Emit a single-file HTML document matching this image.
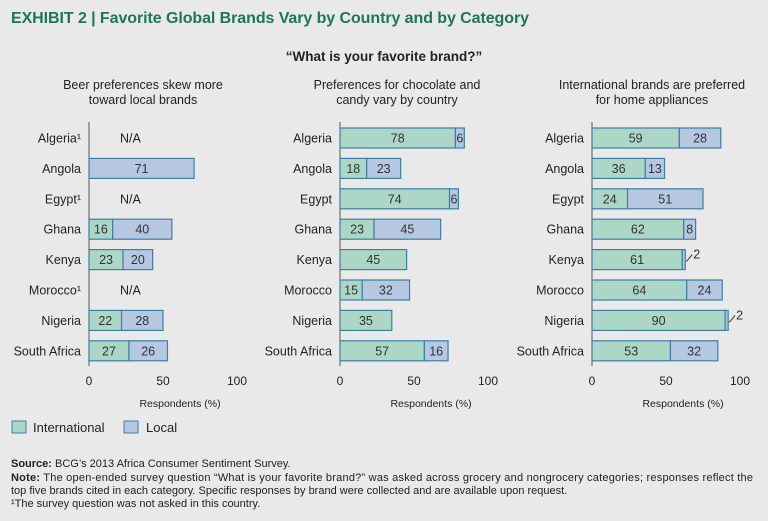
<!DOCTYPE html>
<html><head><meta charset="utf-8"><style>
body{margin:0;background:#e9e9e9;font-family:"Liberation Sans",sans-serif;}
svg{display:block}
</style></head><body>
<svg id="c" width="768" height="521" xmlns="http://www.w3.org/2000/svg">
<rect width="768" height="521" fill="#e9e9e9"/>
<text x="11" y="23" font-size="16" font-weight="bold" fill="#1d7656" textLength="518">EXHIBIT 2 | Favorite Global Brands Vary by Country and by Category</text>
<text x="384" y="61" font-size="13.5" font-weight="bold" fill="#222" text-anchor="middle">“What is your favorite brand?”</text>
<g id="panels"></g>
<g>
<rect x="12" y="421" width="14" height="12" fill="#acd7c6" stroke="#3c7fa4"/>
<text x="33" y="432" font-size="13" fill="#222">International</text>
<rect x="124" y="421" width="14" height="12" fill="#b6c7e2" stroke="#3c7fa4"/>
<text x="146" y="432" font-size="13" fill="#222">Local</text>
</g>
<g font-size="11" fill="#222">
<text x="11" y="467"><tspan font-weight="bold">Source:</tspan> BCG’s 2013 Africa Consumer Sentiment Survey.</text>
<text x="11" y="481" textLength="742"><tspan font-weight="bold">Note:</tspan> The open-ended survey question “What is your favorite brand?” was asked across grocery and nongrocery categories; responses reflect the</text>
<text x="11" y="494">top five brands cited in each category. Specific responses by brand were collected and are available upon request.</text>
<text x="11" y="507">¹The survey question was not asked in this country.</text>
</g>
</svg>
<script>
const countries=["Algeria","Angola","Egypt","Ghana","Kenya","Morocco","Nigeria","South Africa"];
const panelTitles=[["Beer preferences skew more","toward local brands"],["Preferences for chocolate and","candy vary by country"],["International brands are preferred","for home appliances"]];
const beerIntl=[null,0,null,16,23,null,22,27];
const beerLocal=[null,71,null,40,20,null,28,26];
const candyIntl=[78,18,74,23,45,15,35,57];
const candyLocal=[6,23,6,45,0,32,0,16];
const applIntl=[59,36,24,62,61,64,90,53];
const applLocal=[28,13,51,8,2,24,2,32];
const ticks=[0,50,100];
const sup=[[0,2,5],[],[]];
const panels=[[beerIntl,beerLocal],[candyIntl,candyLocal],[applIntl,applLocal]];
const x0s=[89,340,592],scale=1.48,titleCx=[143,397,652];
const g=document.getElementById('panels');
const NS="http://www.w3.org/2000/svg";
function mk(tag,at,txt){const e=document.createElementNS(NS,tag);for(const k in at)e.setAttribute(k,at[k]);if(txt!=null)e.textContent=txt;g.appendChild(e);return e;}
const yc=i=>138+i*30.4;
panels.forEach((p,pi)=>{
 const x0=x0s[pi];const xs=v=>x0+v*scale;
 panelTitles[pi].forEach((l,li)=>{const t=mk('text',{x:titleCx[pi],y:89+li*15,'font-size':12.5,fill:'#222','text-anchor':'middle'},l);
  });
 const ax=mk('line',{x1:x0,x2:x0,y1:122,y2:366,stroke:'#555','stroke-width':1});
 
 ticks.forEach(t=>{const e=mk('text',{x:xs(t),y:385,'font-size':12,fill:'#222','text-anchor':'middle'},t);
  });
 const xt=mk('text',{x:x0+91,y:407,'font-size':10.5,fill:'#222','text-anchor':'middle'},'Respondents (%)');
 
 countries.forEach((c,i)=>{
  const y=yc(i);
  const lab=mk('text',{x:x0-8,y:y+4.5,'font-size':12.5,fill:'#222','text-anchor':'end'},c+(sup[pi]&&sup[pi].includes(i)?'¹':''));
  
  const a=p[0][i],b=p[1][i];
  if(a==null){const n=mk('text',{x:xs(28),y:y+4.5,'font-size':12.5,fill:'#222','text-anchor':'middle'},'N/A');
   return;}
  if(a>0){const r=mk('rect',{x:xs(0),y:y-10,width:a*scale,height:20,fill:'#acd7c6',stroke:'#3c7fa4','stroke-width':1.2});
   
   const t=mk('text',{x:xs(a/2),y:y+4.5,'font-size':12.5,fill:'#333','text-anchor':'middle'},a);
   }
  if(b>0){const r=mk('rect',{x:xs(a),y:y-10,width:b*scale,height:20,fill:'#b6c7e2',stroke:'#3c7fa4','stroke-width':1.2});
   
   if(b<=2){const l=mk('line',{x1:xs(a+b)+1,y1:y+2,x2:xs(a+b)+7,y2:y-5,stroke:'#333'});
     
     const t=mk('text',{x:xs(a+b)+8,y:y-1,'font-size':12.5,fill:'#333'},b);
     }
   else{const t=mk('text',{x:xs(a+b/2),y:y+4.5,'font-size':12.5,fill:'#333','text-anchor':'middle'},b);
     }}
 });
});
</script>
</body></html>
